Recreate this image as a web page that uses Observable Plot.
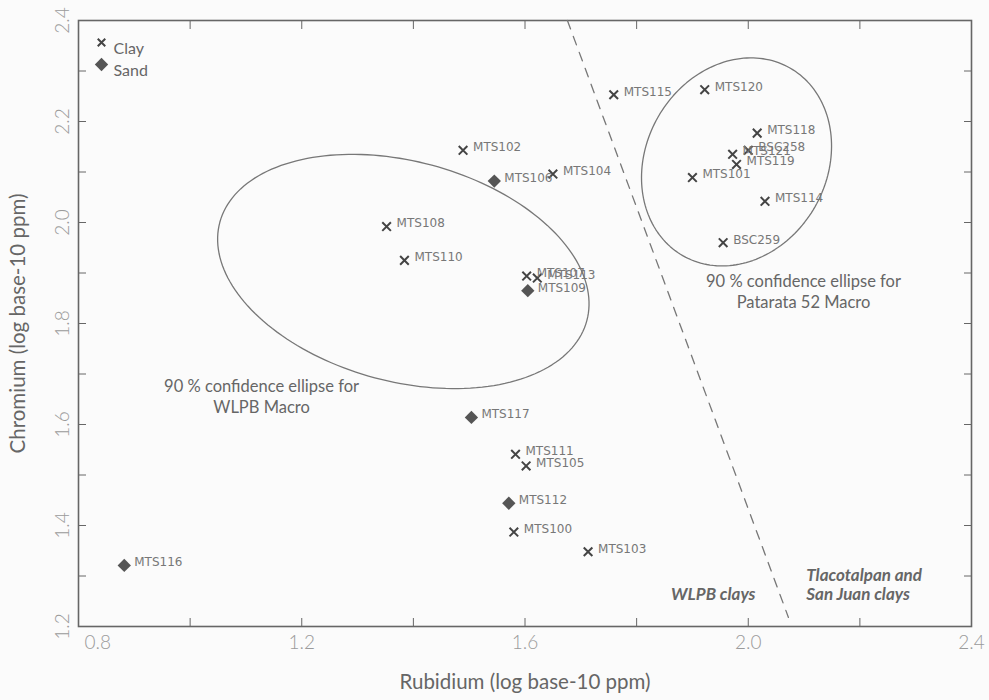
<!DOCTYPE html>
<html>
<head>
<meta charset="utf-8">
<script src="https://cdn.jsdelivr.net/npm/d3@7"></script>
<script src="https://cdn.jsdelivr.net/npm/@observablehq/plot@0.6"></script>
<style>
  html, body { margin: 0; padding: 0; background: #fbfbfb; }
  #chart svg { display: block; background: #fbfbfb; }
  g[aria-label="sample labels"] text { letter-spacing: 1.1px; }
</style>
</head>
<body>
<div id="chart"></div>
<script>
// ---- data ----
const clayNames = ["MTS115","MTS120","MTS118","BSC258","MTS121","MTS119","MTS101","MTS114","BSC259",
                   "MTS102","MTS104","MTS107","MTS113","MTS108","MTS110","MTS111","MTS105","MTS100","MTS103"];
const clayRb    = [1.759, 1.922, 2.016, 2.000, 1.972, 1.979, 1.900, 2.030, 1.955,
                   1.489, 1.650, 1.603, 1.622, 1.352, 1.384, 1.583, 1.602, 1.580, 1.713];
const clayCr    = [2.253, 2.263, 2.177, 2.143, 2.135, 2.115, 2.089, 2.042, 1.960,
                   2.143, 2.096, 1.894, 1.890, 1.992, 1.925, 1.541, 1.518, 1.387, 1.348];

const sandNames = ["MTS106","MTS109","MTS117","MTS112","MTS116"];
const sandRb    = [1.545, 1.605, 1.504, 1.571, 0.882];
const sandCr    = [2.082, 1.865, 1.614, 1.444, 1.321];

// confidence ellipses: centre and two semi-axis vectors, in data units
const ellipseNames = ["WLPB", "Patarata"];
const ellipseCx  = [1.382, 1.979];
const ellipseCy  = [1.903, 2.120];
const ellipseUx  = [0.3288, -0.0957];
const ellipseUy  = [-0.0974, -0.186];
const ellipseVx  = [-0.0511, 0.1408];
const ellipseVy  = [-0.2105, -0.0885];

// dashed divider between clay groups
const dividerRb = [1.676, 2.072];
const dividerCr = [2.4, 1.218];

// annotations
const noteText = ["90 % confidence ellipse for\nWLPB Macro", "90 % confidence ellipse for\nPatarata 52 Macro"];
const noteRb   = [1.128, 2.099];
const noteCr   = [1.657, 1.865];
const regionText = ["WLPB clays", "Tlacotalpan and\nSan Juan clays"];
const regionRb   = [2.013, 2.104];
const regionCr   = [1.263, 1.284];

const xTicksAll = [0.8, 1.0, 1.2, 1.4, 1.6, 1.8, 2.0, 2.2, 2.4];
const xTickLabels = [0.8, 1.2, 1.6, 2.0, 2.4];
const yTicksAll = [1.2,1.3,1.4,1.5,1.6,1.7,1.8,1.9,2.0,2.1,2.2,2.3,2.4];
const yTickLabels = [1.2, 1.4, 1.6, 1.8, 2.0, 2.2, 2.4];

const xTitle = "Rubidium (log base-10 ppm)";
const yTitle = "Chromium (log base-10 ppm)";
const legendNames = ["Clay", "Sand"];

// ---- build tables ----
const clay = clayNames.map((n, i) => ({name: n, rb: clayRb[i], cr: clayCr[i]}));
const sand = sandNames.map((n, i) => ({name: n, rb: sandRb[i], cr: sandCr[i]}));
const allSamples = clay.concat(sand);

const ellipsePts = [];
ellipseNames.forEach((name, k) => {
  const n = 180;
  for (let i = 0; i <= n; i++) {
    const t = 2 * Math.PI * i / n;
    ellipsePts.push({
      e: name,
      rb: ellipseCx[k] + Math.cos(t) * ellipseUx[k] + Math.sin(t) * ellipseVx[k],
      cr: ellipseCy[k] + Math.cos(t) * ellipseUy[k] + Math.sin(t) * ellipseVy[k]
    });
  }
});
const divider = dividerRb.map((r, i) => ({rb: r, cr: dividerCr[i]}));
const notes = noteText.map((t, i) => ({t, rb: noteRb[i], cr: noteCr[i]}));
const regions = regionText.map((t, i) => ({t, rb: regionRb[i], cr: regionCr[i]}));

const grey = "#555";
const fmt = d3.format(".1f");
const noteFont = "Lato, 'Open Sans', sans-serif";
const tickFont = {fontSize: 19, fill: "#9a9a9a", fontFamily: "Lato, sans-serif", fontWeight: 300};

const chart = Plot.plot({
  width: 989,
  height: 700,
  marginLeft: 78,
  marginRight: 18,
  marginTop: 20,
  marginBottom: 74,
  style: {background: "#fbfbfb"},
  x: {domain: [0.8, 2.4]},
  y: {domain: [1.2, 2.4]},
  marks: [
    Plot.frame({stroke: "#666", strokeWidth: 1.6}),
    // inward ticks on all four sides
    Plot.axisX({anchor: "bottom", ticks: xTicksAll, tickSize: 8, dy: -8, tickFormat: () => "", label: null, stroke: "#666"}),
    Plot.axisX({anchor: "top", ticks: xTicksAll, tickSize: 8, dy: 8, tickFormat: () => "", label: null, stroke: "#666"}),
    Plot.axisY({anchor: "left", ticks: yTicksAll, tickSize: 8, dx: 8, tickFormat: () => "", label: null, stroke: "#666"}),
    Plot.axisY({anchor: "right", ticks: yTicksAll, tickSize: 8, dx: -8, tickFormat: () => "", label: null, stroke: "#666"}),
    // x tick labels (first one nudged inside, as in the reference)
    Plot.text(xTickLabels.slice(0, 1), {x: d => d, frameAnchor: "bottom", dy: 22, dx: 6, textAnchor: "start", text: fmt, ...tickFont}),
    Plot.text(xTickLabels.slice(1), {x: d => d, frameAnchor: "bottom", dy: 22, textAnchor: "middle", text: fmt, ...tickFont}),
    // y tick labels, rotated
    Plot.text(yTickLabels, {y: d => d, frameAnchor: "left", dx: -16, rotate: -90, textAnchor: "middle", text: fmt, ...tickFont}),
    // axis titles
    Plot.text([xTitle], {frameAnchor: "bottom", dy: 62, text: d => d, textAnchor: "middle", fontSize: 20.5, fill: "#666", fontFamily: noteFont}),
    Plot.text([yTitle], {frameAnchor: "left", dx: -60, rotate: -90, text: d => d, textAnchor: "middle", fontSize: 20.5, fill: "#666", fontFamily: noteFont}),
    // ellipses
    Plot.line(ellipsePts, {x: "rb", y: "cr", z: "e", stroke: "#777", strokeWidth: 1.3, curve: "linear"}),
    // divider
    Plot.line(divider, {x: "rb", y: "cr", stroke: "#777", strokeWidth: 1.3, strokeDasharray: "9,8"}),
    // samples
    Plot.dot(clay, {x: "rb", y: "cr", symbol: "times", r: 4, stroke: "#444", strokeWidth: 2}),
    Plot.dot(sand, {x: "rb", y: "cr", symbol: "diamond2", r: 6, fill: grey, stroke: "none"}),
    Plot.text(allSamples, {x: "rb", y: "cr", text: "name", dx: 10, dy: -3, textAnchor: "start",
                           fontSize: 12, fill: "#777", fontFamily: "DejaVu Sans, sans-serif", ariaLabel: "sample labels"}),
    // annotations
    Plot.text(notes, {x: "rb", y: "cr", text: "t", fontSize: 16.5, lineHeight: 1.25, fill: "#666", fontFamily: noteFont}),
    Plot.text(regions.slice(0, 1), {x: "rb", y: "cr", text: "t", textAnchor: "end", fontSize: 17, fontWeight: "bold", fontStyle: "italic", fill: "#666", fontFamily: noteFont}),
    Plot.text(regions.slice(1), {x: "rb", y: "cr", text: "t", textAnchor: "start", lineHeight: 1.15, fontSize: 17, fontWeight: "bold", fontStyle: "italic", fill: "#666", fontFamily: noteFont}),
    // legend
    Plot.dot(legendNames.slice(0, 1), {frameAnchor: "top-left", dx: 23, dy: 22, symbol: "times", r: 3.5, stroke: "#444", strokeWidth: 2}),
    Plot.dot(legendNames.slice(1), {frameAnchor: "top-left", dx: 23, dy: 44, symbol: "diamond2", r: 6, fill: grey}),
    Plot.text(legendNames.slice(0, 1), {frameAnchor: "top-left", dx: 35, dy: 22, text: d => d, textAnchor: "start", fontSize: 16, fill: "#666", fontFamily: noteFont}),
    Plot.text(legendNames.slice(1), {frameAnchor: "top-left", dx: 35, dy: 44, text: d => d, textAnchor: "start", fontSize: 16, fill: "#666", fontFamily: noteFont})
  ]
});
document.getElementById("chart").appendChild(chart);
</script>
</body>
</html>
